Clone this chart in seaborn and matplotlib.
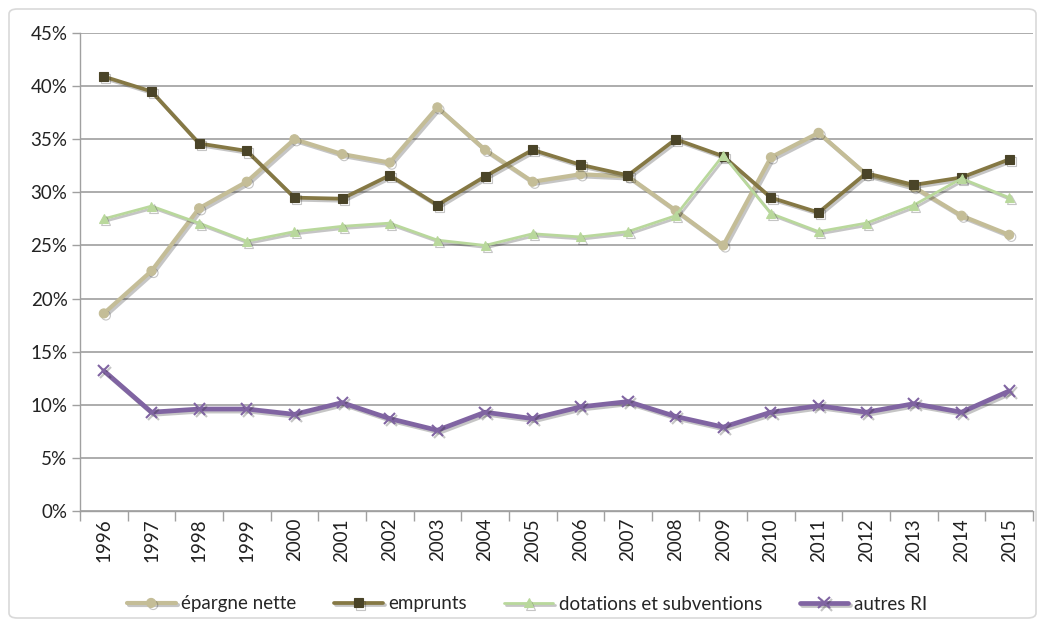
import matplotlib
matplotlib.use("Agg")
import matplotlib.pyplot as plt
import matplotlib.patheffects as pe
from matplotlib.patches import FancyBboxPatch
from matplotlib.ticker import FixedLocator, PercentFormatter
import seaborn as sns
import pandas as pd

years = list(range(1996, 2016))
epargne_nette = [18.6, 22.6, 28.5, 31.0, 35.0, 33.6, 32.8, 38.0, 34.0, 31.0,
                 31.7, 31.5, 28.3, 25.0, 33.3, 35.6, 31.7, 30.5, 27.8, 26.0]
emprunts = [40.9, 39.5, 34.6, 33.9, 29.5, 29.4, 31.6, 28.8, 31.5, 34.0,
            32.6, 31.6, 35.0, 33.4, 29.5, 28.1, 31.8, 30.7, 31.4, 33.1]
dotations = [27.5, 28.7, 27.1, 25.4, 26.3, 26.8, 27.1, 25.5, 25.0, 26.1,
             25.8, 26.3, 27.8, 33.5, 28.0, 26.3, 27.1, 28.8, 31.3, 29.5]
autres_ri = [13.2, 9.3, 9.6, 9.6, 9.1, 10.2, 8.7, 7.6, 9.3, 8.7,
             9.8, 10.3, 8.9, 7.9, 9.3, 9.9, 9.3, 10.1, 9.3, 11.3]
series_names = ["épargne nette", "emprunts", "dotations et subventions", "autres RI"]

sns.set_theme(style="white")
plt.rcParams['font.family'] = ['Lato', 'DejaVu Sans']

df = pd.DataFrame({"year": years,
                   series_names[0]: epargne_nette,
                   series_names[1]: emprunts,
                   series_names[2]: dotations,
                   series_names[3]: autres_ri})
long = df.melt(id_vars="year", var_name="serie", value_name="val")

styles = {
    "épargne nette": dict(color="#C4BD97", lw=3.0, marker="o", ms=6.5, mfc="#C4BD97", mec="#C4BD97"),
    "emprunts": dict(color="#857844", lw=2.7, marker="s", ms=6.5, mfc="#4A4428", mec="#4A4428"),
    "dotations et subventions": dict(color="#B9D89C", lw=2.0, marker="^", ms=6.5, mfc="#B9D89C", mec="#B9D89C"),
    "autres RI": dict(color="#8064A2", lw=3.4, marker="x", ms=8, mfc="#8064A2", mec="#8064A2"),
}

fig = plt.figure(figsize=(10.45, 6.27), dpi=100)
ax = fig.add_axes([80/1045, 1 - 511/627, (1033-80)/1045, (511-33)/627])

shadow = [pe.SimpleLineShadow(offset=(1.5, -1.5), shadow_color="k", alpha=0.25), pe.Normal()]
for name in series_names:
    s = styles[name]
    sub = long[long.serie == name]
    sns.lineplot(data=sub, x="year", y="val", ax=ax, color=s["color"], linewidth=s["lw"],
                 marker=s["marker"], markersize=s["ms"], markerfacecolor=s["mfc"],
                 markeredgecolor=s["mec"], markeredgewidth=1.5 if s["marker"] == "x" else 0.8,
                 label=name, legend=False)
for line in ax.get_lines():
    line.set_path_effects(shadow)

ax.set_xlim(1995.5, 2015.5)
ax.set_ylim(0, 45)
ax.set_yticks(range(0, 50, 5))
ax.yaxis.set_major_formatter(PercentFormatter(decimals=0))
ax.set_xticks(years)
ax.set_xticklabels([str(y) for y in years], rotation=90)
ax.xaxis.set_minor_locator(FixedLocator([y + 0.5 for y in range(1995, 2016)]))
ax.tick_params(axis="x", which="major", length=0, pad=5, labelsize=13.5, colors="#222222")
ax.tick_params(axis="x", which="minor", length=7, width=1, color="#A0A0A0", bottom=True)
ax.tick_params(axis="y", which="major", length=6, width=1, color="#A0A0A0", left=True,
               labelsize=13.5, labelcolor="#222222", pad=3)
ax.grid(axis="y", color="#A6A6A6", linewidth=1.3)
ax.set_axisbelow(True)
for sp in ["top", "right"]:
    ax.spines[sp].set_visible(False)
for sp in ["left", "bottom"]:
    ax.spines[sp].set_color("#A0A0A0")
    ax.spines[sp].set_linewidth(1)
ax.set_xlabel("")
ax.set_ylabel("")

handles = ax.get_lines()[:4]
leg = fig.legend(handles, series_names, loc="center", bbox_to_anchor=(527/1045, 1 - 604/627),
                 ncol=4, frameon=False, fontsize=13.5, handlelength=2.6, columnspacing=2.0,
                 handletextpad=0.3)

border = FancyBboxPatch((9/1045, 9/627), 1 - 18/1045, 1 - 18/627, transform=fig.transFigure,
                        boxstyle="round,pad=0,rounding_size=0.008", fill=False,
                        edgecolor="#D9D9D9", linewidth=1.2)
fig.patches.append(border)

fig.savefig("out.png", dpi=100)
